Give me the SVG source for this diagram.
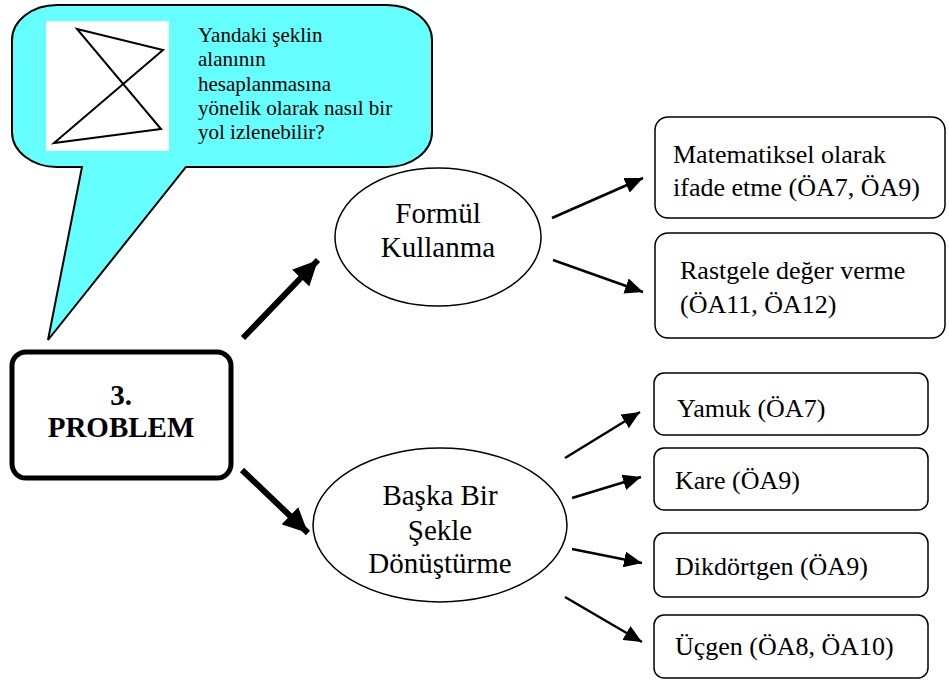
<svg xmlns="http://www.w3.org/2000/svg" width="949" height="682" viewBox="0 0 949 682" font-family="Liberation Serif">
<defs>
<style>
.box{fill:#fff;stroke:#000;stroke-width:1.5}
.thin{stroke:#000;stroke-width:2.5;fill:none}
.thick{stroke:#000;stroke-width:6;fill:none}
</style>
<marker id="ah" markerUnits="userSpaceOnUse" markerWidth="20" markerHeight="16" refX="18" refY="8" orient="auto">
<path d="M0,0 L18,8 L0,16 Z" fill="#000"/>
</marker>
<marker id="ahb" markerUnits="userSpaceOnUse" markerWidth="26" markerHeight="24" refX="25" refY="12" orient="auto">
<path d="M0,0 L25,12 L0,24 Z" fill="#000"/>
</marker>
</defs>
<rect width="949" height="682" fill="#fff"/>

<g id="callout" font-size="21">
<path d="M57,5 H387 A45,35 0 0 1 432,40 V132 A45,35 0 0 1 387,167 H186 L48,340 L82,167 H57 A45,35 0 0 1 12,132 V40 A45,35 0 0 1 57,5 Z" fill="#66FFFF" stroke="#000" stroke-width="2"/>
<rect x="46" y="21" width="123" height="130" fill="#fff"/>
<polygon points="77,29 163,50 54,143 161,129" fill="none" stroke="#000" stroke-width="2"/>
<text x="198" y="42">Yandaki şeklin</text>
<text x="198" y="66">alanının</text>
<text x="198" y="91">hesaplanmasına</text>
<text x="198" y="115">yönelik olarak nasıl bir</text>
<text x="198" y="139">yol izlenebilir?</text>
</g>

<g id="problem" font-size="29" font-weight="bold" text-anchor="middle">
<rect x="12" y="352" width="219" height="126" rx="14" fill="#fff" stroke="#000" stroke-width="5"/>
<text x="121" y="405">3.</text>
<text x="121" y="437">PROBLEM</text>
</g>

<g id="formul" font-size="29" text-anchor="middle">
<ellipse cx="438" cy="237" rx="103" ry="69" class="box"/>
<text x="438" y="223">Formül</text>
<text x="438" y="257">Kullanma</text>
</g>

<g id="baska" font-size="29" text-anchor="middle">
<ellipse cx="440" cy="525" rx="127" ry="77" class="box"/>
<text x="440" y="505">Başka Bir</text>
<text x="440" y="540">Şekle</text>
<text x="440" y="573">Dönüştürme</text>
</g>

<g id="matematiksel" font-size="26">
<rect x="655" y="117" width="290" height="101" rx="13" class="box"/>
<text x="673" y="163">Matematiksel olarak</text>
<text x="673" y="196">ifade etme (ÖA7, ÖA9)</text>
</g>

<g id="rastgele" font-size="26">
<rect x="655" y="233" width="290" height="105" rx="13" class="box"/>
<text x="680" y="279">Rastgele değer verme</text>
<text x="680" y="313">(ÖA11, ÖA12)</text>
</g>

<g id="yamuk" font-size="26">
<rect x="654" y="373" width="274" height="62" rx="10" class="box"/>
<text x="677" y="417">Yamuk (ÖA7)</text>
</g>

<g id="kare" font-size="26">
<rect x="654" y="448" width="274" height="62" rx="10" class="box"/>
<text x="675" y="489">Kare (ÖA9)</text>
</g>

<g id="dikdortgen" font-size="26">
<rect x="654" y="533" width="274" height="64" rx="10" class="box"/>
<text x="675" y="575">Dikdörtgen (ÖA9)</text>
</g>

<g id="ucgen" font-size="26">
<rect x="654" y="615" width="274" height="63" rx="10" class="box"/>
<text x="675" y="655">Üçgen (ÖA8, ÖA10)</text>
</g>

<g id="connectors">
<line class="thick" x1="243" y1="338" x2="318" y2="260" marker-end="url(#ahb)"/>
<line class="thick" x1="242" y1="470" x2="308" y2="533" marker-end="url(#ahb)"/>
<line class="thin" x1="552" y1="218" x2="643" y2="178" marker-end="url(#ah)"/>
<line class="thin" x1="553" y1="260" x2="643" y2="292" marker-end="url(#ah)"/>
<line class="thin" x1="565" y1="458" x2="640" y2="412" marker-end="url(#ah)"/>
<line class="thin" x1="572" y1="498" x2="641" y2="477" marker-end="url(#ah)"/>
<line class="thin" x1="572" y1="549" x2="642" y2="563" marker-end="url(#ah)"/>
<line class="thin" x1="565" y1="597" x2="642" y2="642" marker-end="url(#ah)"/>
</g>
</svg>
